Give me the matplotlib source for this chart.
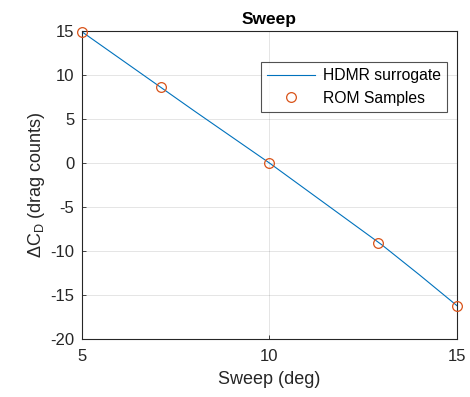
import matplotlib
matplotlib.use("Agg")
import matplotlib.pyplot as plt

plt.rcParams['font.family'] = ['Liberation Sans', 'DejaVu Sans']
plt.rcParams['mathtext.fontset'] = 'custom'
plt.rcParams['mathtext.rm'] = 'Liberation Sans'
plt.rcParams['mathtext.it'] = 'Liberation Sans:italic'
plt.rcParams['axes.unicode_minus'] = False

# Surrogate curve
sweep_curve = [5, 6, 7, 8, 9, 10, 11, 12, 13, 14, 15]
dcd_curve = [14.9, 11.9, 8.9, 5.9, 2.95, 0.0, -3.1, -6.2, -9.3, -12.7, -16.2]

# ROM samples
sweep_samples = [5, 7.1, 10, 12.9, 15]
dcd_samples = [14.9, 8.6, 0.0, -9.1, -16.3]

xticks = [5, 10, 15]
yticks = [-20, -15, -10, -5, 0, 5, 10, 15]

fig = plt.figure(figsize=(4.7, 3.97), dpi=100)
ax = fig.add_axes([0.1745, 0.146, 0.7975, 0.776])

ax.plot(sweep_curve, dcd_curve, color='#0072BD', lw=0.8, label='HDMR surrogate')
ax.plot(sweep_samples, dcd_samples, 'o', mfc='none', mec='#D95319', mew=0.9,
        ms=7, label='ROM Samples', clip_on=False, zorder=3)

ax.set_xlim(5, 15)
ax.set_ylim(-20, 15)
ax.set_xticks(xticks)
ax.set_yticks(yticks)
ax.grid(True, color='#000000', alpha=0.12, lw=0.6)
ax.tick_params(direction='in', labelsize=12, colors='#262626', length=3, width=0.6)
ax.tick_params(axis='x', pad=7.5)
ax.tick_params(axis='y', pad=5.5)
for s in ax.spines.values():
    s.set_color('#262626')
    s.set_linewidth(0.8)

ax.set_title('Sweep', fontsize=12.5, fontweight='bold', pad=5)
ax.set_xlabel('Sweep (deg)', fontsize=13, color='#262626', labelpad=5)
ax.set_ylabel(r'$\Delta\mathrm{C}_\mathrm{D}$ (drag counts)', fontsize=13,
              color='#262626', labelpad=2)

leg = ax.legend(loc='upper right', bbox_to_anchor=(0.975, 0.9), fontsize=11.3,
                frameon=True, fancybox=False, edgecolor='#262626',
                borderpad=0.4, handlelength=3.0, labelspacing=0.5,
                handletextpad=0.55, borderaxespad=0)
leg.get_frame().set_linewidth(0.8)

fig.savefig('out.png', dpi=100)
